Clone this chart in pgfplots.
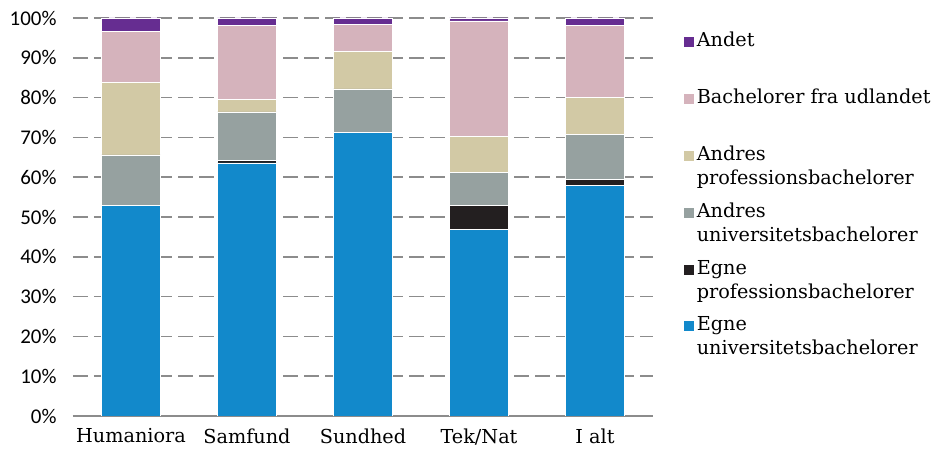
\documentclass[border=0pt]{standalone}
\usepackage{pgfplots}
\pgfplotsset{compat=1.18}
\usepackage{fontspec}
\setmainfont{DejaVu Serif}
\newfontfamily\tickfont{Carlito}
\usetikzlibrary{calc}
\definecolor{cBlue}{HTML}{1289CB}
\definecolor{cBlack}{HTML}{231F20}
\definecolor{cGrey}{HTML}{96A1A0}
\definecolor{cBeige}{HTML}{D2C9A5}
\definecolor{cPink}{HTML}{D5B3BC}
\definecolor{cPurple}{HTML}{662D91}
\definecolor{cGrid}{HTML}{8C8C8C}
\begin{document}
\begin{tikzpicture}
\begin{axis}[
  name=ax,
  scale only axis,
  width=580bp, height=398bp,
  ybar stacked,
  bar width=59bp,
  xmin=-0.5, xmax=4.5,
  ymin=0, ymax=100,
  xtick={0,1,2,3,4},
  xticklabels={Humaniora,Samfund,Sundhed,Tek/Nat,I alt},
  ytick={0,10,...,100},
  yticklabel={\pgfmathprintnumber{\tick}\%},
  /pgf/number format/assume math mode=true,
  yticklabel style={font=\tickfont\fontsize{21}{24}\selectfont, xshift=-13bp},
  xticklabel style={font=\fontsize{19.3}{23}\selectfont, yshift=-9bp},
  major tick length=0pt,
  axis x line*=bottom,
  axis y line*=left,
  y axis line style={draw=none},
  x axis line style={draw=cGrid, line width=1.5bp, -},
  ymajorgrids,
  major grid style={draw=cGrid, line width=1.6bp, dash pattern=on 15bp off 6bp},
  reverse legend,
  legend style={
    at={(rel axis cs:1.047,1.0)}, anchor=north west,
    yshift=-10bp,
    draw=none, fill=none,
    font=\fontsize{19.3}{24}\selectfont,
    cells={align=left, anchor=west},
    row sep=13bp,
  },
  legend image code/.code={\fill[#1] (-5bp,5bp) rectangle (6bp,16bp);},
]
\addplot[fill=cBlue, draw=white, line width=0.4pt] coordinates {(0,53.0) (1,63.6) (2,71.2) (3,46.9) (4,57.9)};
\addlegendentry{Egne\\universitetsbachelorer}
\addplot[fill=cBlack, draw=white, line width=0.4pt] coordinates {(0,0.0) (1,0.7) (2,0.0) (3,6.1) (4,1.6)};
\addlegendentry{Egne\\professionsbachelorer}
\addplot[fill=cGrey, draw=white, line width=0.4pt] coordinates {(0,12.6) (1,12.1) (2,11.0) (3,8.3) (4,11.2)};
\addlegendentry{Andres\\universitetsbachelorer}
\addplot[fill=cBeige, draw=white, line width=0.4pt] coordinates {(0,18.3) (1,3.2) (2,9.5) (3,9.0) (4,9.4)};
\addlegendentry{Andres\\professionsbachelorer}
\addplot[fill=cPink, draw=white, line width=0.4pt] coordinates {(0,12.8) (1,18.6) (2,6.7) (3,29.0) (4,18.0)};
\addlegendentry{Bachelorer fra udlandet\\\strut}
\addplot[fill=cPurple, draw=white, line width=0.4pt] coordinates {(0,3.3) (1,1.8) (2,1.6) (3,0.7) (4,1.9)};
\addlegendentry{Andet\\\strut}
\end{axis}
\path[use as bounding box] ($(ax.south west)+(-73bp,-34bp)$) rectangle ++(940bp,450bp);
\end{tikzpicture}
\end{document}
